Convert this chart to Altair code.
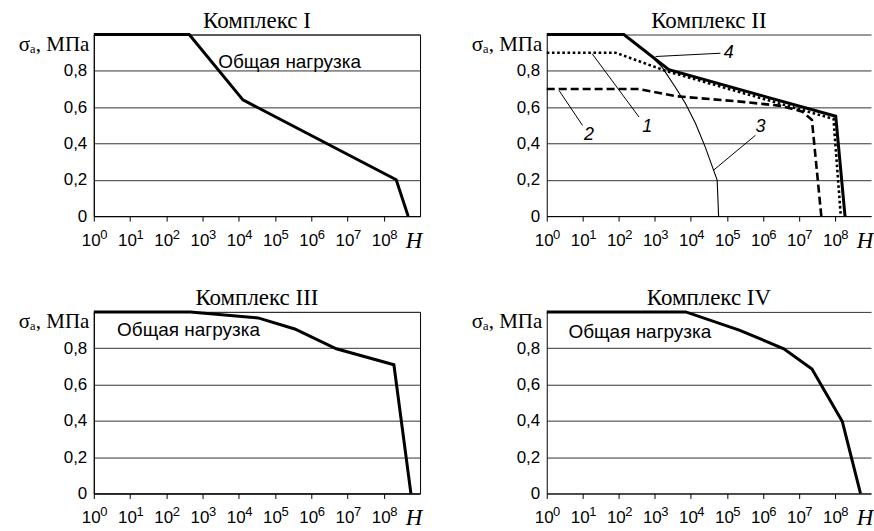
import altair as alt
import pandas as pd

# ---------------- data ----------------
# Complex I (total load)
N_I = [1, 4.3e2, 1.3e4, 2.2e8, 4.7e8]
S_I = [1.0, 1.0, 0.64, 0.20, 0.0]

# Complex II, curves 1..4
N_II_1 = [1, 81, 2.0e3, 9.1e7, 1.45e8]
S_II_1 = [0.9, 0.9, 0.80, 0.535, 0.0]
N_II_2 = [1, 363, 3.98e3, 2.0e5, 3.16e6, 1.26e7, 2.29e7, 4.17e7]
S_II_2 = [0.7, 0.7, 0.66, 0.632, 0.607, 0.575, 0.53, 0.0]
N_II_3 = [138, 550, 1585, 3715, 7080, 13490, 25120, 42660, 53700, 58900]
S_II_3 = [1.0, 0.912, 0.82, 0.71, 0.62, 0.51, 0.38, 0.253, 0.198, 0.0]
N_II_4 = [1, 138, 2455, 1.05e8, 1.9e8]
S_II_4 = [1.0, 1.0, 0.806, 0.55, 0.0]

# Complex III, IV (total load)
N_III = [1, 4.6e2, 3.4e4, 3.5e5, 4.9e6, 1.9e8, 5.6e8]
S_III = [1.0, 1.0, 0.967, 0.906, 0.797, 0.709, 0.0]
N_IV = [1, 7.2e3, 2.2e5, 3.8e6, 2.3e7, 1.6e8, 5.1e8]
S_IV = [1.0, 1.0, 0.90, 0.797, 0.685, 0.396, 0.0]

TITLES = ["Комплекс I", "Комплекс II", "Комплекс III", "Комплекс IV"]
X_TICKS = [1, 10, 100, 1e3, 1e4, 1e5, 1e6, 1e7, 1e8]
X_EXPONENTS = ["0", "1", "2", "3", "4", "5", "6", "7", "8"]
Y_TICKS = [0, 0.2, 0.4, 0.6, 0.8, 1.0]
Y_TITLE = "σₐ, МПа"
X_TITLE = "H"

LOAD_LABEL = "Общая нагрузка"
LOAD_N = {"I": 2.7e3, "III": 4.4, "IV": 4.0}
LOAD_S = {"I": 0.846, "III": 0.90, "IV": 0.89}

CURVE_LABELS = ["1", "2", "3", "4"]
CURVE_LABEL_N = [620, 14.8, 8.5e5, 1.12e5]
CURVE_LABEL_S = [0.49, 0.445, 0.49, 0.90]
LEADER_N1 = [18.2, 2.19, 42660, 1047]
LEADER_S1 = [0.894, 0.692, 0.253, 0.879]
LEADER_N2 = [363, 9.8, 6.2e5, 6.6e4]
LEADER_S2 = [0.546, 0.5, 0.445, 0.897]

# ---------------- chart ----------------
W_LEFT, W_RIGHT, H = 327, 325, 182
SANS = "Liberation Sans"
SERIF = "Liberation Serif"

y_label_expr = ("datum.value >= 1 ? '' : (datum.value == 0 ? '0' : "
                "replace(format(datum.value, '.1f'), '.', ','))")

XS = alt.Scale(type="log", domain=[1, 1e9], nice=False)
YS = alt.Scale(domain=[0, 1], nice=False, zero=False)

x_axis = alt.Axis(values=X_TICKS, labelExpr="'10'", title=None,
                  grid=False, tickSize=5, tickColor="black", domainColor="black",
                  labelFont=SANS, labelFontSize=17, labelColor="black",
                  labelBaseline="middle", labelPadding=19, labelOffset=-3,
                  labelFlush=False, labelOverlap=False)
y_axis = alt.Axis(values=Y_TICKS, labelExpr=y_label_expr, ticks=False,
                  grid=True, gridColor="#333", gridWidth=1, domainColor="black",
                  labelFont=SANS, labelFontSize=17, labelColor="black",
                  labelPadding=7, labelFlush=False, labelOverlap=False,
                  title=Y_TITLE, titleAngle=0, titleAlign="right",
                  titleBaseline="middle", titleX=-5, titleY=10,
                  titleFont=SERIF, titleFontSize=21, titleFontWeight="normal",
                  titleColor="black")

X = lambda: alt.X("N:Q", scale=XS, axis=x_axis)
Y = lambda: alt.Y("S:Q", scale=YS, axis=y_axis)


def curve(N, S, **style):
    df = pd.DataFrame({"N": N, "S": S, "i": range(len(N))})
    return alt.Chart(df).mark_line(color="black", strokeJoin="miter", **style).encode(
        x=X(), y=Y(), order="i:O")


def exponents():
    df = pd.DataFrame({"N": X_TICKS, "e": X_EXPONENTS})
    return alt.Chart(df).mark_text(font=SANS, fontSize=13, align="center",
                                   baseline="middle", color="black", dx=10).encode(
        x=X(), y=alt.value(H + 19), text="e:N")


def x_title(width):
    return alt.Chart(pd.DataFrame({"t": [X_TITLE]})).mark_text(
        font=SERIF, fontStyle="italic", fontSize=23, align="center",
        baseline="alphabetic", color="black"
    ).encode(text="t:N", x=alt.value(width - 6), y=alt.value(H + 32))


def panel_title(title, width):
    return alt.Chart(pd.DataFrame({"t": [title]})).mark_text(
        font=SERIF, fontSize=23, align="center", baseline="alphabetic",
        color="black"
    ).encode(text="t:N", x=alt.value(width / 2), y=alt.value(-7))


def load_label(key):
    df = pd.DataFrame({"N": [LOAD_N[key]], "S": [LOAD_S[key]], "t": [LOAD_LABEL]})
    return alt.Chart(df).mark_text(font=SANS, fontSize=19, align="left",
                                   baseline="middle", color="black").encode(
        x=X(), y=Y(), text="t:N")


def panel(layers, title, width, framed=True):
    ch = alt.layer(*layers, panel_title(title, width)).properties(width=width, height=H)
    if framed:
        ch = ch.properties(view=alt.ViewBackground(stroke="black", strokeWidth=1))
    else:
        ch = ch.properties(view=alt.ViewBackground(stroke="transparent"))
    return ch


p1 = panel([curve(N_I, S_I, strokeWidth=3), load_label("I"),
            exponents(), x_title(W_LEFT)], TITLES[0], W_LEFT)

lab_df = pd.DataFrame({"N": CURVE_LABEL_N, "S": CURVE_LABEL_S, "t": CURVE_LABELS})
lead_df = pd.DataFrame({"N": LEADER_N1, "S": LEADER_S1, "N2": LEADER_N2, "S2": LEADER_S2})
leaders = alt.Chart(lead_df).mark_rule(color="black", strokeWidth=1).encode(
    x=X(), y=Y(), x2="N2:Q", y2="S2:Q")
labels = alt.Chart(lab_df).mark_text(font=SANS, fontStyle="italic", fontSize=18,
                                     align="center", baseline="middle",
                                     color="black").encode(
    x=X(), y=Y(), text="t:N")

p2 = panel([
    curve(N_II_4, S_II_4, strokeWidth=3),
    curve(N_II_3, S_II_3, strokeWidth=1.1),
    curve(N_II_2, S_II_2, strokeWidth=2.6, strokeDash=[8, 4]),
    curve(N_II_1, S_II_1, strokeWidth=2.6, strokeDash=[2.6, 2.6]),
    leaders, labels, exponents(), x_title(W_RIGHT),
], TITLES[1], W_RIGHT, framed=False)

p3 = panel([curve(N_III, S_III, strokeWidth=3), load_label("III"),
            exponents(), x_title(W_LEFT)], TITLES[2], W_LEFT)
p4 = panel([curve(N_IV, S_IV, strokeWidth=3), load_label("IV"),
            exponents(), x_title(W_RIGHT)], TITLES[3], W_RIGHT, framed=False)

chart = alt.concat(p1, p2, p3, p4, columns=2, spacing={"row": 96, "column": 127},
                   bounds="flush").properties(
    padding={"left": 17, "top": 8, "right": 0, "bottom": 0},
    background="white",
).configure_view(stroke="black")

chart.save("out.html", embed_options={"renderer": "svg", "actions": False})
